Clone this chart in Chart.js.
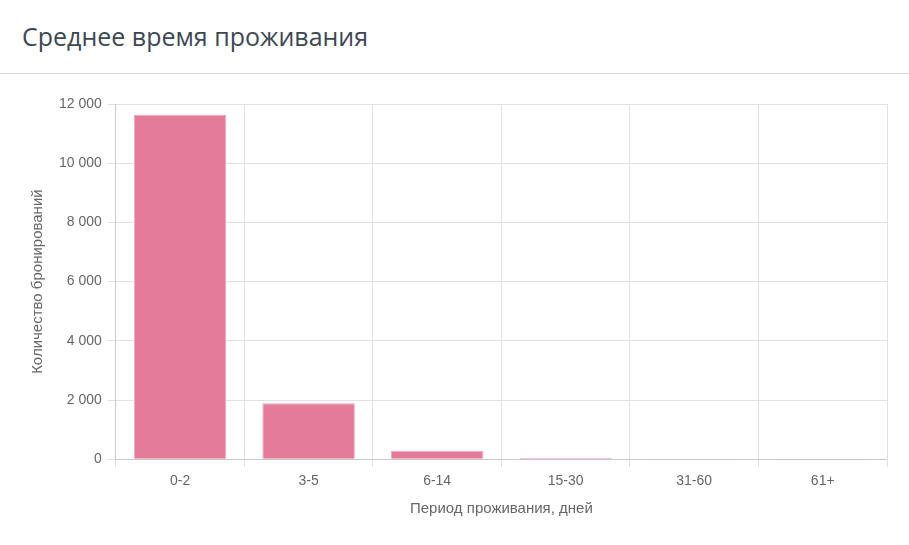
<!DOCTYPE html>
<html lang="ru">
<head>
<meta charset="utf-8">
<script src="https://cdn.jsdelivr.net/npm/chart.js@4/dist/chart.umd.min.js"></script>
<style>
    html, body { margin: 0; padding: 0; background: #fff; }
    .card { width: 909px; height: 545px; }
    .card h2 {
        margin: 0;
        padding: 19px 22px 0 22px;
        height: 54px;
        font-family: "Open Sans", sans-serif;
        font-weight: 400;
        font-size: 25px;
        color: #3d4753;
        border-bottom: 1px solid #d3dae3;
    }
    .chart-box { position: relative; width: 909px; height: 470px; }
</style>
</head>
<body>
<div class="card">
    <h2>Среднее время проживания</h2>
    <div class="chart-box"><canvas id="stay-chart"></canvas></div>
</div>
<script>
const categories = ["0-2", "3-5", "6-14", "15-30", "31-60", "61+"];
const bookings = [11630, 1890, 280, 40, 10, 5];
const yTicks = [0, 2000, 4000, 6000, 8000, 10000, 12000];

const fmt = (v) => String(v).replace(/\B(?=(\d{3})+(?!\d))/g, ' ');

Chart.defaults.font.family = '"Liberation Sans", Arial, sans-serif';
Chart.defaults.color = '#666';

const ctx = document.getElementById('stay-chart').getContext('2d');
new Chart(ctx, {
    type: 'bar',
    data: {
        labels: categories,
        datasets: [{
            label: 'Количество бронирований',
            data: bookings,
            backgroundColor: '#e57b9a',
            borderColor: '#f2a9bf',
            borderWidth: 1,
        }],
    },
    options: {
        responsive: true,
        maintainAspectRatio: false,
        animation: false,
        layout: { padding: { left: 25, right: 22, top: 30, bottom: 22 } },
        plugins: {
            legend: { display: false },
            tooltip: { enabled: false },
        },
        scales: {
            x: {
                grid: { color: '#e1e1e1', tickLength: 8 },
                ticks: { font: { size: 14 }, padding: 6 },
                title: {
                    display: true,
                    text: 'Период проживания, дней',
                    font: { size: 15 },
                    padding: { top: 4 },
                },
            },
            y: {
                min: 0,
                max: 12000,
                afterBuildTicks: (axis) => { axis.ticks = yTicks.map(v => ({ value: v })); },
                grid: { color: '#e1e1e1', tickLength: 8 },
                ticks: { font: { size: 14 }, padding: 6, callback: (v) => fmt(v) },
                title: {
                    display: true,
                    text: 'Количество бронирований',
                    font: { size: 15 },
                    padding: { bottom: 6 },
                },
            },
        },
    },
});
</script>
</body>
</html>
